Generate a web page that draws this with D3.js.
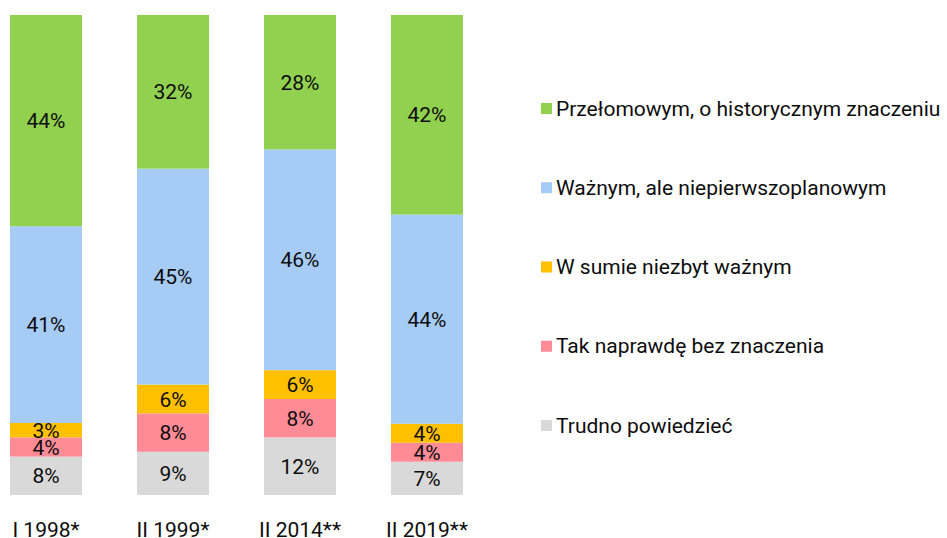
<!DOCTYPE html>
<html>
<head>
<meta charset="utf-8">
<script src="https://cdn.jsdelivr.net/npm/d3@7"></script>
<style>
  body { margin: 0; background: #fff; }
  svg { font-family: Roboto, 'Noto Sans', sans-serif; }
</style>
</head>
<body>
<div id="chart"></div>
<script>
let categories = ['I 1998*', 'II 1999*', 'II 2014**', 'II 2019**']
let seriesNames = [
  'Trudno powiedzieć',
  'Tak naprawdę bez znaczenia',
  'W sumie niezbyt ważnym',
  'Ważnym, ale niepierwszoplanowym',
  'Przełomowym, o historycznym znaczeniu'
]
let trudno = [8, 9, 12, 7]
let takNaprawde = [4, 8, 8, 4]
let wSumie = [3, 6, 6, 4]
let waznym = [41, 45, 46, 44]
let przelomowym = [44, 32, 28, 42]
let colors = ['#d9d9d9', '#ff8b97', '#ffc000', '#a6cbf5', '#92d050']

let width = 947
let height = 538
let fontSize = 21

let svg = d3
  .select('#chart')
  .append('svg')
  .attr('width', width)
  .attr('height', height)

let seriesValues = [trudno, takNaprawde, wSumie, waznym, przelomowym]
let rows = categories.map((c, i) => {
  let row = { category: c }
  seriesNames.forEach((s, j) => {
    row[s] = seriesValues[j][i]
  })
  return row
})

// 100% stacked (2019 sums to 101)
let stacked = d3
  .stack()
  .keys(seriesNames)
  .offset(d3.stackOffsetExpand)(rows)

let xPositionScale = d3
  .scaleBand()
  .domain(categories)
  .range([10, 463])
  .paddingInner(55 / 127)
  .paddingOuter(0)

let yPositionScale = d3.scaleLinear().domain([0, 1]).range([495, 15])

let colorScale = d3.scaleOrdinal().domain(seriesNames).range(colors)

let groups = svg
  .selectAll('.series')
  .data(stacked)
  .enter()
  .append('g')
  .attr('class', 'series')
  .attr('fill', d => colorScale(d.key))

groups
  .selectAll('rect')
  .data(d => d)
  .enter()
  .append('rect')
  .attr('x', d => xPositionScale(d.data.category))
  .attr('y', d => yPositionScale(d[1]))
  .attr('width', xPositionScale.bandwidth())
  .attr('height', d => yPositionScale(d[0]) - yPositionScale(d[1]))

groups
  .selectAll('text')
  .data(d => d.map(v => Object.assign({ key: d.key }, v)))
  .enter()
  .append('text')
  .attr('x', d => xPositionScale(d.data.category) + xPositionScale.bandwidth() / 2)
  .attr('y', d => (yPositionScale(d[0]) + yPositionScale(d[1])) / 2)
  .attr('dy', '0.36em')
  .attr('text-anchor', 'middle')
  .attr('font-size', fontSize)
  .attr('fill', '#0d0d0d')
  .text(d => d.data[d.key] + '%')

// category labels
let xAxis = d3.axisBottom(xPositionScale).tickSize(0).tickPadding(0)
svg
  .append('g')
  .attr('class', 'axis x-axis')
  .attr('transform', 'translate(0,522)')
  .call(xAxis)
  .call(g => g.select('.domain').remove())
  .selectAll('text')
  .attr('font-size', fontSize)
  .attr('font-family', 'Roboto, sans-serif')
  .attr('fill', '#0d0d0d')

// legend, top to bottom
let legendItems = seriesNames.slice().reverse()
let legendY = d3
  .scalePoint()
  .domain(legendItems)
  .range([108, 425])

let legend = svg
  .selectAll('.legend')
  .data(legendItems)
  .enter()
  .append('g')
  .attr('class', 'legend')
  .attr('transform', d => `translate(541, ${legendY(d)})`)

legend
  .append('rect')
  .attr('x', 0)
  .attr('y', -5)
  .attr('width', 11)
  .attr('height', 11)
  .attr('fill', d => colorScale(d))

legend
  .append('text')
  .attr('x', 15)
  .attr('y', 0)
  .attr('dy', '0.36em')
  .attr('font-size', fontSize)
  .attr('fill', '#0d0d0d')
  .text(d => d)
</script>
</body>
</html>
